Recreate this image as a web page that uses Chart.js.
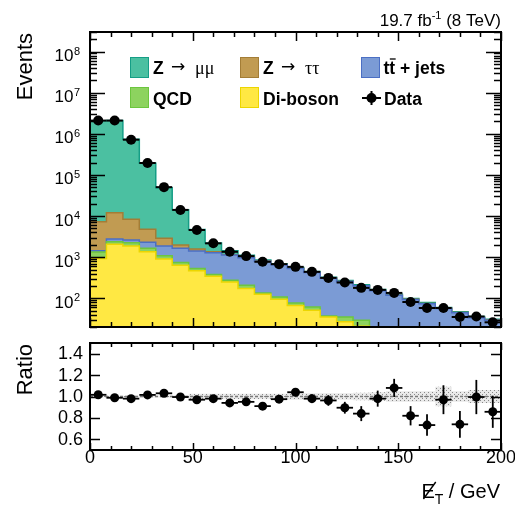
<!DOCTYPE html>
<html><head><meta charset="utf-8">
<script src="https://cdn.jsdelivr.net/npm/chart.js@4/dist/chart.umd.min.js"></script>
<style>
html,body{margin:0;padding:0;background:#fff;width:515px;height:512px;overflow:hidden}
#top{position:absolute;left:0;top:0}
#bot{position:absolute;left:0;top:336px}
</style></head><body>
<canvas id="top" width="515" height="340"></canvas>
<canvas id="bot" width="515" height="176"></canvas>
<script>
// ---------------- DATA ----------------
const binEdges = [0,8,16,24,32,40,48,56,64,72,80,88,96,104,112,120,128,136,144,152,160,168,176,184,192,200];
const binCenters = [4,12,20,28,36,44,52,60,68,76,84,92,100,108,116,124,132,140,148,156,164,172,180,188,196];

const diboson = [922,2050,1860,1350,896,640,465,344,250,173,125,95,67,51,35,27,21,14,11,9,7,6,5,4,3];
const qcd     = [408,320,380,290,184,105,66,35,25,35,10,13,10,10,2,8,8,3,2,2,1,1,1,1,0.5];
const ttbar   = [100,390,370,650,780,895,874,901,847,756,664,545,450,361,269,219,172,136,105,82,66,49,38.5,28.5,25.5];
const ztautau = [5870,9340,5740,2480,1010,330,170,70,30,15,8,7,5,4,3,3,2,2,1,1,1,1,0.5,0.5,0.5];
const zmumu   = [2063000,2108000,727000,187200,46100,12230,3145,860,288,141,40,33,27,22,16,13,10,8,6,5,4,3,2,2,1.5];

const dataEvents = [2100000,2100000,720000,195000,50500,14100,4580,2170,1350,1060,771,676,581,439,313,242,179,160,135,81,58,58,35,36,26];

const ratioVals = [1.016,0.988,0.98,1.015,1.03,0.995,0.97,0.98,0.94,0.95,0.91,0.975,1.04,0.98,0.963,0.895,0.84,0.98,1.08,0.82,0.733,0.97,0.74,0.995,0.857];
const ratioErr  = [0.004,0.004,0.005,0.008,0.01,0.015,0.02,0.022,0.025,0.028,0.03,0.035,0.035,0.04,0.05,0.055,0.07,0.075,0.085,0.09,0.1,0.135,0.125,0.16,0.15];
const mcBand    = [0.008,0.008,0.008,0.01,0.01,0.012,0.025,0.025,0.025,0.025,0.025,0.025,0.03,0.03,0.03,0.03,0.035,0.04,0.05,0.05,0.05,0.09,0.05,0.06,0.06];

const yPowers = [2,3,4,5,6,7,8];
const xTickLabels = [0,50,100,150,200];
const ratioTicks = [0.6,0.8,1.0,1.2,1.4];

// ---------------- HELPERS ----------------
function toEdges(vals){ return binEdges.map((e,i)=>({x:e, y: vals[Math.min(i, vals.length-1)]})); }
const layers = [diboson, qcd, ttbar, ztautau, zmumu];
const cum = [];
layers.forEach((arr,i)=>{ cum.push(arr.map((v,b)=> v + (i>0 ? cum[i-1][b] : 0))); });

const fills   = ['#ffe843','#8dd35f','#7b9bd5','#c19b52','#4bc0a1'];
const borders = ['#ecd600','#6cc63e','#4b6fc4','#a37d36','#159e86'];

function line(ctx,x1,y1,x2,y2){ ctx.beginPath(); ctx.moveTo(x1,y1); ctx.lineTo(x2,y2); ctx.stroke(); }

// ---------------- TOP CHART ----------------
const topDatasets = layers.map((arr,i)=>({
  type:'line', data: toEdges(cum[i]), stepped:'before', pointRadius:0,
  borderColor: borders[i], borderWidth:1.5, backgroundColor: fills[i],
  fill: i===0 ? 'start' : '-1', order: 1
}));
topDatasets.push({
  type:'line', data: binCenters.map((c,i)=>({x:c,y:dataEvents[i]})), showLine:false,
  pointRadius:5, pointBackgroundColor:'#000', pointBorderColor:'#000', pointBorderWidth:0,
  order:-1, clip:false
});

const topDecor = {
  id:'topDecor',
  afterDatasetsDraw(chart){
    const {ctx, scales:{x,y}} = chart;
    ctx.save(); ctx.strokeStyle='#000'; ctx.lineWidth=2;
    binCenters.forEach((c,i)=>{
      const py=y.getPixelForValue(dataEvents[i]);
      line(ctx, x.getPixelForValue(c-4), py, x.getPixelForValue(c+4), py);
    });
    ctx.restore();
  },
  afterDraw(chart){
    const {ctx, chartArea:a, scales:{x,y}} = chart;
    ctx.save();
    ctx.strokeStyle='#000'; ctx.lineWidth=2;
    ctx.strokeRect(a.left, a.top, a.right-a.left, a.bottom-a.top);
    ctx.lineWidth=1.5;
    for (let p=1;p<=8;p++) for (let m=1;m<=9;m++){
      const v=m*Math.pow(10,p);
      if (v<y.min||v>y.max) continue;
      const py=Math.round(y.getPixelForValue(v))+0.5;
      const L = m===1?15:7;
      line(ctx,a.left,py,a.left+L,py); line(ctx,a.right,py,a.right-L,py);
    }
    for (let g=0; g<=200; g+=10){
      const px=Math.round(x.getPixelForValue(g))+0.5; const L = g%50===0?9:5;
      line(ctx,px,a.bottom,px,a.bottom-L); line(ctx,px,a.top,px,a.top+L);
    }
    // y tick labels 10^n
    ctx.fillStyle='#000'; ctx.textAlign='right'; ctx.textBaseline='alphabetic';
    yPowers.forEach(p=>{
      const py=y.getPixelForValue(Math.pow(10,p));
      ctx.font='11px "Liberation Sans", Arial, sans-serif';
      const sw=ctx.measureText(String(p)).width;
      ctx.fillText(String(p), 80, py+3);
      ctx.font='17px "Liberation Sans", Arial, sans-serif';
      ctx.fillText('10', 80-sw-0.5, py+9.5);
    });
    // y title
    ctx.save(); ctx.translate(32,33); ctx.rotate(-Math.PI/2);
    ctx.font='22px "Liberation Sans", Arial, sans-serif'; ctx.textAlign='right';
    ctx.fillText('Events',0,0); ctx.restore();
    // lumi text
    ctx.textAlign='left';
    ctx.font='17px "Liberation Sans", Arial, sans-serif';
    const w1=ctx.measureText('19.7 fb').width, w3=ctx.measureText(' (8 TeV)').width;
    ctx.font='11px "Liberation Sans", Arial, sans-serif';
    const w2=ctx.measureText('-1').width;
    let sx = 501 - (w1+w2+w3);
    ctx.font='17px "Liberation Sans", Arial, sans-serif'; ctx.fillText('19.7 fb', sx, 26);
    ctx.font='11px "Liberation Sans", Arial, sans-serif'; ctx.fillText('-1', sx+w1, 19);
    ctx.font='17px "Liberation Sans", Arial, sans-serif'; ctx.fillText(' (8 TeV)', sx+w1+w2, 26);
    // legend
    const boxes=[[130,57,4],[240,57,3],[361,57,2],[130,87,1],[240,87,0]];
    boxes.forEach(([bx,by,k])=>{
      ctx.fillStyle=fills[k]; ctx.fillRect(bx,by,19,21);
      ctx.strokeStyle=borders[k]; ctx.lineWidth=1; ctx.strokeRect(bx+0.5,by+0.5,18,20);
    });
    ctx.fillStyle='#000';
    const bold='bold 17.5px "Liberation Sans", Arial, sans-serif';
    const serif='18px "Liberation Serif", "Times New Roman", serif';
    const arrowFont='17px "DejaVu Sans", sans-serif';
    ctx.font=bold; ctx.fillText('Z',153,74);
    ctx.font=arrowFont; ctx.fillText('\u2192',171,72); 
    ctx.font=serif; ctx.fillText('\u03bc\u03bc',195,74);
    ctx.font=bold; ctx.fillText('Z',263,74);
    ctx.font=arrowFont; ctx.fillText('\u2192',281,72);
    ctx.font=serif; ctx.fillText('\u03c4\u03c4',305,74);
    ctx.font=bold; ctx.fillText('tt + jets',383.5,74);
    const tw=ctx.measureText('t').width;
    ctx.strokeStyle='#000'; ctx.lineWidth=1.3; line(ctx,383.5+tw+0.5,59,383.5+2*tw+0.5,59);
    ctx.fillText('QCD',153,104.5);
    ctx.fillText('Di-boson',263,104.5);
    ctx.fillText('Data',384,104.5);
    ctx.lineWidth=2; line(ctx,362,98,381,98); line(ctx,371.5,91,371.5,105);
    ctx.beginPath(); ctx.arc(371.5,98,5,0,Math.PI*2); ctx.fill();
    ctx.restore();
  }
};

new Chart(document.getElementById('top'), {
  type:'line',
  data:{ datasets: topDatasets },
  options:{
    responsive:false, animation:false, events:[],
    layout:{ padding:{ left:90, right:14, top:32, bottom:13 } },
    plugins:{ legend:{display:false}, tooltip:{enabled:false} },
    scales:{
      x:{ type:'linear', min:0, max:200, display:false },
      y:{ type:'logarithmic', min:20, max:3e8, display:false }
    }
  },
  plugins:[topDecor]
});

// ---------------- RATIO CHART ----------------
const botCanvas = document.getElementById('bot');
const pc = document.createElement('canvas'); pc.width=4; pc.height=4;
const pg = pc.getContext('2d');
pg.fillStyle='rgba(215,215,215,0.55)'; pg.fillRect(0,0,4,4);
pg.fillStyle='rgba(120,120,120,0.85)'; pg.fillRect(0,0,1,1); pg.fillRect(2,2,1,1);
const hatch = botCanvas.getContext('2d').createPattern(pc,'repeat');

const ratioDatasets = [
  { type:'line', data: toEdges(mcBand.map(b=>1-b)), stepped:'before', pointRadius:0, borderWidth:0, borderColor:'rgba(0,0,0,0)', fill:false, order:1 },
  { type:'line', data: toEdges(mcBand.map(b=>1+b)), stepped:'before', pointRadius:0, borderWidth:0, borderColor:'rgba(0,0,0,0)', backgroundColor: hatch, fill:'-1', order:1 },
  { type:'line', data: binCenters.map((c,i)=>({x:c,y:ratioVals[i]})), showLine:false,
    pointRadius:4.5, pointBackgroundColor:'#000', pointBorderColor:'#000', pointBorderWidth:0, order:-1, clip:false }
];

const botDecor = {
  id:'botDecor',
  beforeDatasetDraw(chart, args){
    if (args.index!==2) return;
    const {ctx, chartArea:a, scales:{x,y}} = chart;
    ctx.save(); ctx.strokeStyle='#7a7a7a'; ctx.lineWidth=1.5; ctx.setLineDash([3,2]);
    const py=y.getPixelForValue(1.0);
    line(ctx,a.left,py,a.right,py); ctx.restore();
    ctx.save(); ctx.strokeStyle='#000'; ctx.lineWidth=1.8;
    binCenters.forEach((c,i)=>{
      const px=x.getPixelForValue(c), py2=y.getPixelForValue(ratioVals[i]);
      line(ctx, x.getPixelForValue(c-4), py2, x.getPixelForValue(c+4), py2);
      line(ctx, px, y.getPixelForValue(ratioVals[i]-ratioErr[i]), px, y.getPixelForValue(ratioVals[i]+ratioErr[i]));
    });
    ctx.restore();
  },
  afterDraw(chart){
    const {ctx, chartArea:a, scales:{x,y}} = chart;
    ctx.save();
    ctx.strokeStyle='#000'; ctx.lineWidth=2;
    ctx.strokeRect(a.left, a.top, a.right-a.left, a.bottom-a.top);
    ctx.lineWidth=1.5;
    ratioTicks.forEach(v=>{
      const py=Math.round(y.getPixelForValue(v))+0.5;
      line(ctx,a.left,py,a.left+10,py); line(ctx,a.right,py,a.right-10,py);
    });
    for (let g=0; g<=200; g+=10){
      const px=Math.round(x.getPixelForValue(g))+0.5; const L = g%50===0?7:4;
      line(ctx,px,a.bottom,px,a.bottom-L); line(ctx,px,a.top,px,a.top+L);
    }
    ctx.fillStyle='#000';
    ctx.font='18px "Liberation Sans", Arial, sans-serif';
    ctx.textAlign='right'; ctx.textBaseline='middle';
    ratioTicks.forEach(v=>{ ctx.fillText(v.toFixed(1), 83, y.getPixelForValue(v)+0.5); });
    ctx.textAlign='center'; ctx.textBaseline='alphabetic';
    xTickLabels.forEach(v=>{ ctx.fillText(String(v), x.getPixelForValue(v), 127); });
    // y title
    ctx.save(); ctx.translate(32,8); ctx.rotate(-Math.PI/2);
    ctx.font='22px "Liberation Sans", Arial, sans-serif'; ctx.textAlign='right';
    ctx.fillText('Ratio',0,0); ctx.restore();
    // x title  E-slash_T / GeV
    ctx.textAlign='left';
    ctx.font='20px "Liberation Sans", Arial, sans-serif';
    const wE=ctx.measureText('E').width, wG=ctx.measureText(' / GeV').width;
    ctx.font='14px "Liberation Sans", Arial, sans-serif';
    const wT=ctx.measureText('T').width;
    const x0 = 500 - (wE+wT+wG);
    const base=162;
    ctx.font='20px "Liberation Sans", Arial, sans-serif'; ctx.fillText('E', x0, base);
    ctx.lineWidth=1.4; line(ctx, x0+2, base+1, x0+wE+1, base-16);
    ctx.font='14px "Liberation Sans", Arial, sans-serif'; ctx.fillText('T', x0+wE, base+6);
    ctx.font='20px "Liberation Sans", Arial, sans-serif'; ctx.fillText(' / GeV', x0+wE+wT, base);
    ctx.restore();
  }
};

new Chart(botCanvas, {
  type:'line',
  data:{ datasets: ratioDatasets },
  options:{
    responsive:false, animation:false, events:[],
    layout:{ padding:{ left:90, right:14, top:7, bottom:62 } },
    plugins:{ legend:{display:false}, tooltip:{enabled:false} },
    scales:{
      x:{ type:'linear', min:0, max:200, display:false },
      y:{ type:'linear', min:0.5, max:1.5, display:false }
    }
  },
  plugins:[botDecor]
});
</script>
</body></html>
